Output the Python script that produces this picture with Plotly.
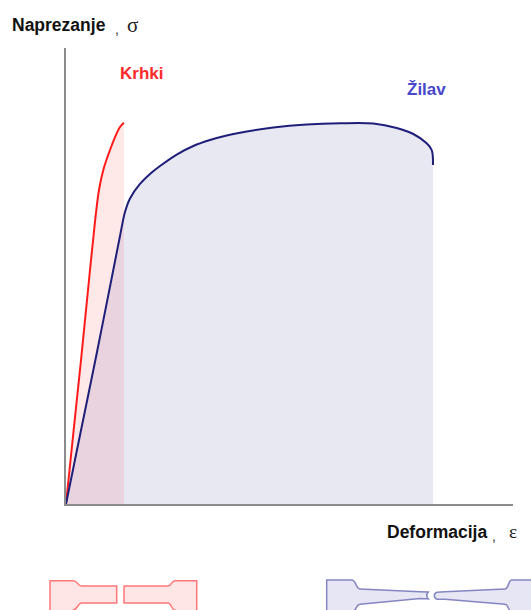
import plotly.graph_objects as go

# ---- data (arbitrary strain / stress units) ----
strain_brittle = [0, 1.48, 3.36, 5.37, 6.04, 6.71, 7.38, 8.34, 9.84, 11.34, 12.08, 12.82, 12.98]
stress_brittle = [0, 14.04, 31.58, 51.32, 57.68, 63.82, 68.86, 73.25, 77.63, 81.29, 82.68, 83.49, 83.60]

strain_ductile = [0, 2.91, 6.71, 10.58, 12.08, 13.20, 14.32, 16.55, 18.79, 21.03, 24.77, 28.48,
                  32.21, 35.95, 40.43, 46.38, 53.85, 61.30, 68.75, 73.98, 77.70, 80.69, 81.81, 82.10]
stress_ductile = [0, 14.04, 32.24, 51.32, 58.77, 64.04, 67.00, 70.18, 72.37, 74.12, 76.64, 78.51,
                  79.82, 80.81, 81.69, 82.57, 83.22, 83.49, 83.44, 82.46, 81.14, 79.10, 77.63, 74.34]

label_brittle = "Krhki"
label_ductile = "Žilav"
y_title = "Naprezanje"
x_title = "Deformacija"

W, H = 531, 610
L, R, T, B = 66, 18, 48, 106
PW, PH = W - L - R, H - T - B


def px2paper(px, py):
    return (px - L) / PW, (H - B - py) / PH


fig = go.Figure()
fig.add_trace(go.Scatter(
    x=strain_brittle, y=stress_brittle, mode="lines", fill="tozeroy",
    fillcolor="rgba(255,0,0,0.09)",
    line=dict(color="#ff1a1a", width=2, shape="spline", smoothing=1.0),
    hoverinfo="skip", showlegend=False))
fig.add_trace(go.Scatter(
    x=strain_ductile, y=stress_ductile, mode="lines", fill="tozeroy",
    fillcolor="rgba(25,25,135,0.10)",
    line=dict(color="#1f1f7a", width=2, shape="spline", smoothing=1.0),
    hoverinfo="skip", showlegend=False))


def ann(text, px, py, size, color, family="Liberation Sans", bold=False):
    x, y = px2paper(px, py)
    if bold:
        text = "<b>" + text + "</b>"
    fig.add_annotation(x=x, y=y, xref="paper", yref="paper", text=text,
                       showarrow=False, xanchor="left", yanchor="middle",
                       font=dict(size=size, color=color, family=family))


ann(y_title, 10, 24.5, 17.5, "#111111", bold=True)
ann(",", 113, 29, 14, "#333333")
ann("σ", 125, 25, 21, "#222222", family="Liberation Serif")
ann(label_brittle, 118, 73, 17, "#ff2a2a", bold=True)
ann(label_ductile, 405, 89, 17, "#4848cc", bold=True)
ann(x_title, 385, 531.5, 17.5, "#111111", bold=True)
ann(",", 490, 536, 14, "#333333")
ann("ε", 507, 531, 19, "#222222", family="Liberation Serif")


# ---- decorative test specimens (pixel outlines) ----
def path(cmds):
    s = ""
    for c, pts in cmds:
        s += c + " " + " ".join("%.4f,%.4f" % px2paper(*p) for p in pts) + " "
    return s + "Z"


pink_left = [("M", [(50, 580.7)]), ("L", [(73.3, 580.7)]),
             ("C", [(77.5, 580.7), (77.5, 586), (81.7, 586)]),
             ("L", [(116.7, 586)]), ("L", [(116.7, 603)]), ("L", [(81.7, 603)]),
             ("C", [(77.5, 603), (77.5, 610), (73.3, 610)]),
             ("L", [(73.3, 615)]), ("L", [(50, 615)])]
pink_right = [("M", [(124, 586)]), ("L", [(168, 586)]),
              ("C", [(171.5, 586), (171.5, 580.7), (175, 580.7)]),
              ("L", [(196.7, 580.7)]), ("L", [(196.7, 615)]), ("L", [(175, 615)]),
              ("L", [(175, 610)]),
              ("C", [(171.5, 610), (171.5, 603), (168, 603)]),
              ("L", [(124, 603)])]
blue_left = [("M", [(326.7, 580)]), ("L", [(351.7, 580)]),
             ("C", [(356, 580), (356, 589), (360, 589)]),
             ("L", [(420, 591.7)]), ("L", [(428.3, 591.9)]),
             ("C", [(426.5, 594), (426.5, 597), (428.3, 599)]),
             ("L", [(420, 598.5)]), ("L", [(360, 604.3)]),
             ("C", [(356, 604.3), (356, 612), (351.7, 612)]),
             ("L", [(351.7, 615)]), ("L", [(326.7, 615)])]
blue_right = [("M", [(437, 592.3)]), ("L", [(445, 591.7)]), ("L", [(505, 589)]),
              ("C", [(508.5, 589), (508.5, 580), (511.7, 580)]),
              ("L", [(540, 580)]), ("L", [(540, 615)]), ("L", [(511.7, 615)]),
              ("L", [(511.7, 612)]),
              ("C", [(508.5, 612), (508.5, 604.3), (505, 604.3)]),
              ("L", [(445, 599.3)]), ("L", [(437, 599.3)]),
              ("C", [(433.5, 598), (433.5, 593.5), (437, 592.3)])]

for cmds, fill, line in [(pink_left, "#ffe6e6", "#ff7777"),
                         (pink_right, "#ffe6e6", "#ff7777"),
                         (blue_left, "#e6e6f4", "#8585c2"),
                         (blue_right, "#e6e6f4", "#8585c2")]:
    fig.add_shape(type="path", path=path(cmds), xref="paper", yref="paper",
                  fillcolor=fill, line=dict(color=line, width=1.5), layer="above")

axis_common = dict(showline=True, linecolor="#8c8c8c", linewidth=2,
                   showticklabels=False, showgrid=False, zeroline=False,
                   ticks="", fixedrange=True)
fig.update_xaxes(range=[0, 100], **axis_common)
fig.update_yaxes(range=[0, 100], **axis_common)

fig.update_layout(width=W, height=H, autosize=False,
                  margin=dict(l=L, r=R, t=T, b=B, pad=0),
                  paper_bgcolor="white", plot_bgcolor="white",
                  showlegend=False)

fig.write_html("out.html", config={"displayModeBar": False},
               post_script="document.body.style.margin='0';document.body.style.padding='0';document.body.style.overflow='hidden';")
